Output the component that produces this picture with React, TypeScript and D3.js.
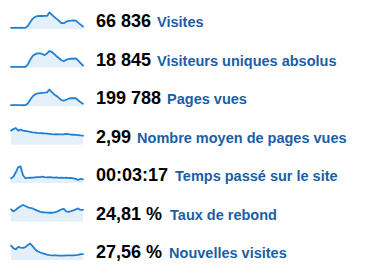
import React from "react";
import * as d3 from "d3";

const visits = [260, 240, 280, 250, 270, 230, 290, 640, 1480, 2220, 2650, 2810, 2860, 2840, 2870, 2850, 3600, 3150, 2650, 2220, 1800, 1290, 1270, 1590, 1790, 1810, 1900, 1840, 1380, 950, 530];
const uniqueVisitors = [38, 36, 40, 37, 39, 35, 40, 171, 447, 665, 760, 808, 808, 779, 713, 808, 950, 900, 779, 646, 532, 418, 361, 447, 485, 504, 504, 532, 390, 247, 114];
const pageViews = [550, 520, 560, 540, 550, 510, 570, 1650, 4180, 6380, 7700, 8360, 8580, 8800, 8910, 9130, 11000, 9240, 7700, 6710, 5390, 3850, 3520, 4180, 4840, 5170, 5280, 5170, 3850, 2530, 1430];
const pagesPerVisit = [3.53, 3.91, 4.2, 3.53, 3.78, 3.53, 3.44, 3.32, 3.23, 3.11, 3.02, 2.94, 2.9, 2.86, 2.81, 2.77, 2.73, 2.65, 2.6, 2.65, 2.56, 2.6, 2.56, 2.73, 2.65, 2.52, 2.48, 2.44, 2.39, 2.31, 2.27];
const avgTime = [180, 236, 403, 601, 620, 291, 180, 192, 198, 205, 211, 217, 223, 236, 217, 211, 217, 211, 198, 211, 192, 198, 192, 198, 180, 192, 174, 155, 112, 155, 136];
const bounceRate = [28.1, 23.2, 27.0, 31.5, 35.0, 38.0, 35.7, 32.7, 31.2, 30.0, 27.4, 25.1, 22.8, 21.3, 20.9, 20.5, 20.1, 20.1, 20.9, 22.4, 25.1, 27.7, 29.3, 23.2, 22.4, 23.9, 25.8, 28.1, 30.0, 26.6, 27.0];
const newVisits = [74.4, 61.2, 54.4, 67.2, 63.8, 62.9, 66.3, 77.4, 85.0, 71.4, 56.1, 45.1, 40.0, 35.7, 31.9, 28.1, 25.5, 23.8, 23.4, 23.4, 23.0, 23.0, 23.0, 23.4, 23.4, 23.8, 23.8, 25.5, 26.4, 30.6, 30.6];

const totals = ["66 836", "18 845", "199 788", "2,99", "00:03:17", "24,81 %", "27,56 %"];
const labels = ["Visites", "Visiteurs uniques absolus", "Pages vues", "Nombre moyen de pages vues", "Temps passé sur le site", "Taux de rebond", "Nouvelles visites"];
const seriesList = [visits, uniqueVisitors, pageViews, pagesPerVisit, avgTime, bounceRate, newVisits];
const labelGaps = [6, 6, 6, 6, 7, 8, 7];

const W = 373;
const H = 275;
const firstBase = 27;
const rowStep = 38.5;
const sparkLeft = 11;
const sparkRight = 83;
const sparkH = 16.5;
const font = "'Liberation Sans', Arial, sans-serif";

function Spark({ values, base }: { values: number[]; base: number }) {
  const x = d3.scaleLinear().domain([0, values.length - 1]).range([sparkLeft, sparkRight]);
  const y = d3.scaleLinear().domain([0, d3.max(values) as number]).range([base, base - sparkH]);
  const area = d3.area<number>().x((_, i) => x(i)).y0(base).y1((d) => y(d));
  const line = d3.line<number>().x((_, i) => x(i)).y((d) => y(d));
  return (
    <g>
      <path d={area(values) || ""} fill="#e3f0fa" />
      <path d={line(values) || ""} fill="none" stroke="#2180d3" strokeWidth={1.8} strokeLinejoin="round" strokeLinecap="round" />
    </g>
  );
}

export default function App() {
  return (
    <svg width={W} height={H} style={{ position: "absolute", left: 0, top: 0, background: "#fff" }}>
      {seriesList.map((s, k) => {
        const textBase = firstBase + k * rowStep;
        return (
          <g key={k}>
            <Spark values={s} base={textBase + 2} />
            <text x={96} y={textBase} fontFamily={font}>
              <tspan fontSize={18} fontWeight="bold" fill="#000">{totals[k]}</tspan>
              <tspan dx={labelGaps[k]} fontSize={14.5} fontWeight="bold" fill="#1c5ea4">{labels[k]}</tspan>
            </text>
          </g>
        );
      })}
    </svg>
  );
}
